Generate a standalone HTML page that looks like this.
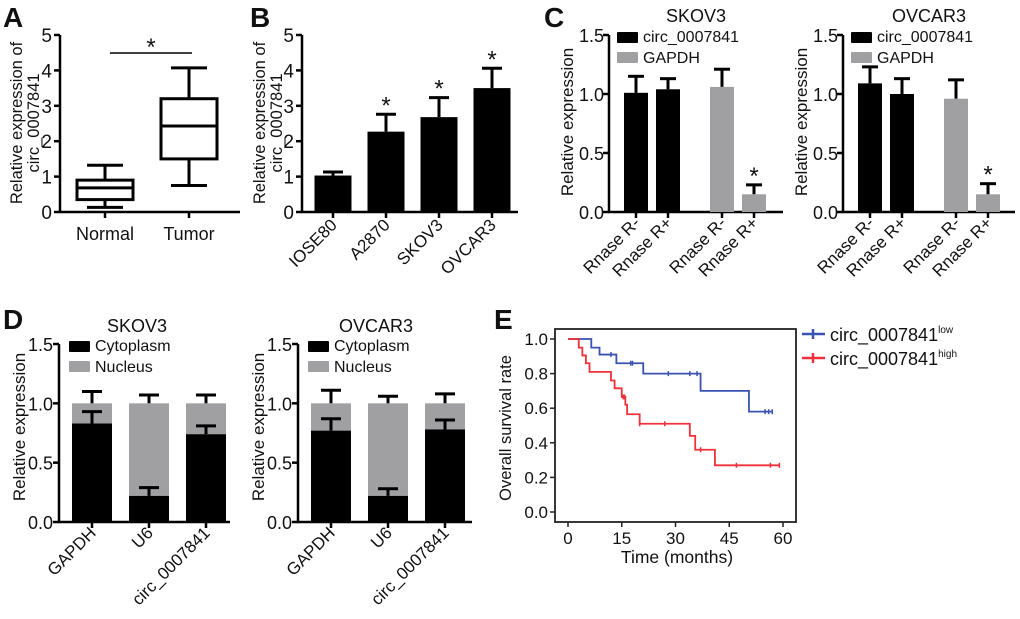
<!DOCTYPE html>
<html><head><meta charset="utf-8"><style>
body{margin:0;background:#fff}
svg text{font-family:"Liberation Sans",Arial,sans-serif;fill:#111}
</style></head><body>
<svg id="fig" width="1020" height="614" viewBox="0 0 1020 614" xmlns="http://www.w3.org/2000/svg"></svg>
<script>
// Panel A boxplot data
const boxCats = ["Normal", "Tumor"];
const boxMin = [0.13, 0.75];
const boxQ1 = [0.35, 1.5];
const boxMed = [0.68, 2.43];
const boxQ3 = [0.9, 3.2];
const boxMax = [1.32, 4.07];
// Panel B
const bCats = ["IOSE80", "A2870", "SKOV3", "OVCAR3"];
const bVals = [1.03, 2.27, 2.68, 3.5];
const bErr = [1.13, 2.76, 3.23, 4.06];
const bSig = [false, true, true, true];
// Panel C
const cCats = ["Rnase R-", "Rnase R+", "Rnase R-", "Rnase R+"];
const cSkovVals = [1.01, 1.04, 1.06, 0.15];
const cSkovErr = [1.15, 1.13, 1.21, 0.23];
const cOvcarVals = [1.09, 1.0, 0.96, 0.15];
const cOvcarErr = [1.23, 1.13, 1.12, 0.24];
const cGroup = ["circ", "circ", "gapdh", "gapdh"];
// Panel D
const dCats = ["GAPDH", "U6", "circ_0007841"];
const dSkovCyto = [0.83, 0.22, 0.74];
const dSkovCytoErr = [0.93, 0.29, 0.81];
const dSkovNucErr = [1.10, 1.07, 1.07];
const dOvcarCyto = [0.77, 0.22, 0.78];
const dOvcarCytoErr = [0.87, 0.28, 0.86];
const dOvcarNucErr = [1.11, 1.06, 1.08];
// Panel E survival
const lowT = [0, 6.5, 8.8, 13.5, 21, 37, 50.5, 57];
const lowS = [1.0, 0.95, 0.91, 0.86, 0.80, 0.70, 0.58, 0.58];
const lowCens = [12, 17.5, 18, 28, 34, 36, 55, 56, 57];
const highT = [0, 3, 4, 5, 6, 12, 13, 15, 16, 16.5, 20, 34, 35.5, 41, 59];
const highS = [1.0, 0.95, 0.905, 0.86, 0.81, 0.76, 0.715, 0.665, 0.62, 0.565, 0.51, 0.44, 0.36, 0.27, 0.27];
const highCens = [15.4, 15.8, 20, 27, 37, 47, 56.5, 59];
const xTicksE = [0, 15, 30, 45, 60];
const yTicksE = [0, 0.2, 0.4, 0.6, 0.8, 1.0];

const svg = document.getElementById('fig');
const NS = "http://www.w3.org/2000/svg";
const GRAY = "#a0a0a3";
function el(tag, attrs, parent) {
  const e = document.createElementNS(NS, tag);
  for (const k in attrs) e.setAttribute(k, attrs[k]);
  (parent || svg).appendChild(e);
  return e;
}
function txt(x, y, s, size, attrs, parent) {
  const t = el('text', Object.assign({x: x, y: y, 'font-size': size}, attrs || {}), parent);
  t.textContent = s;
  return t;
}
function line(x1, y1, x2, y2, w, c, parent) {
  return el('line', {x1, y1, x2, y2, stroke: c || '#000', 'stroke-width': w || 2}, parent);
}
function yAxis(g, x0, yBase, yTop, xEnd, max, ticks, fmt, fs, off) {
  const sy = v => yBase - v / max * (yBase - yTop);
  line(x0, yTop, x0, yBase + 1, 2.5, '#000', g);
  line(x0 - 1, yBase, xEnd, yBase, 2.5, '#000', g);
  ticks.forEach(v => {
    line(x0 - 6, sy(v), x0, sy(v), 2.5, '#000', g);
    const t = txt(x0 - off, sy(v) + 7, fmt(v), fs, {'text-anchor': 'end'}, g);
    
    
  });
  return sy;
}
function errBar(g, cx, y1, y2, hw) {
  line(cx, y1, cx, y2, 3, '#000', g);
  line(cx - hw, y2, cx + hw, y2, 3, '#000', g);
}
function panelLetter(x, y, s) {
  const t = txt(x, y, s, 28, {'font-weight': 'bold'});
  
  
}
function yTitle(g, xs, y, lines, fs) {
  const t = el('text', {'font-size': fs, 'text-anchor': 'middle'}, g);
  
  
  lines.forEach((l, i) => {
    const ts = el('tspan', {transform: '', x: 0, y: 0}, t);
    ts.textContent = l;
  });
  // place each line separately via its own text element for exact baselines
  svg.removeChild ? null : null;
  t.remove();
  lines.forEach((l, i) => {
    const tt = el('text', {transform: `translate(${xs[i]},${y}) rotate(-90)`, 'font-size': fs, 'text-anchor': 'middle'}, g);
    
    
    tt.textContent = l;
  });
}
function rotLabel(g, cx, y, s) {
  const t = txt(0, 0, s, 17, {'text-anchor': 'end', transform: `translate(${cx + 5},${y}) rotate(-45)`}, g);
  
  
}

// ---------- Panel A ----------
panelLetter(3, 27, "A");
(function () {
  const g = el('g', {});
  
  
  const sy = yAxis(g, 60, 212, 35, 240, 5, [0, 1, 2, 3, 4, 5], v => String(v), 19, 8);
  yTitle(g, [22, 39], 123, ["Relative expression of", "circ_0007841"], 16.5);
  const cx = i => 105 + i * 84;
  boxCats.forEach((c, i) => {
    const x = cx(i), hw = 28;
    line(x, 212, x, 218, 2.5, '#000', g);
    const t = txt(x, 240, c, 18, {'text-anchor': 'middle'}, g);
    
    
    const b = el('rect', {x: x - hw, y: sy(boxQ3[i]), width: hw * 2, height: sy(boxQ1[i]) - sy(boxQ3[i]), fill: 'none', stroke: '#000', 'stroke-width': 3}, g);
    
    
    line(x - hw, sy(boxMed[i]), x + hw, sy(boxMed[i]), 3, '#000', g);
    line(x, sy(boxQ3[i]), x, sy(boxMax[i]), 3, '#000', g);
    line(x, sy(boxQ1[i]), x, sy(boxMin[i]), 3, '#000', g);
    line(x - 18, sy(boxMax[i]), x + 18, sy(boxMax[i]), 3, '#000', g);
    line(x - 18, sy(boxMin[i]), x + 18, sy(boxMin[i]), 3, '#000', g);
  });
  line(110, 53, 192, 53, 1.5, '#000', g);
  txt(151, 55, "*", 24, {'text-anchor': 'middle'}, g);
})();

// ---------- Panel B ----------
panelLetter(250, 27, "B");
(function () {
  const g = el('g', {});
  
  
  const sy = yAxis(g, 302, 212, 35, 518, 5, [0, 1, 2, 3, 4, 5], v => String(v), 19, 8);
  yTitle(g, [265, 282], 123, ["Relative expression of", "circ_0007841"], 16.5);
  const cx = i => 333 + i * 53;
  bCats.forEach((c, i) => {
    const x = cx(i), hw = 18.5;
    errBar(g, x, sy(bVals[i]), sy(bErr[i]), 10);
    const r = el('rect', {x: x - hw, y: sy(bVals[i]), width: hw * 2, height: 212 - sy(bVals[i]), fill: '#000'}, g);
    
    
    line(x, 212, x, 218, 2.5, '#000', g);
    rotLabel(g, x, 226, c);
    if (bSig[i]) txt(x, sy(bErr[i]) - 1, "*", 24, {'text-anchor': 'middle'}, g);
  });
})();

// ---------- Panel C ----------
panelLetter(544, 27, "C");
function panelC(x0, xEnd, title, vals, errs, name) {
  const g = el('g', {});
  
  
  const sy = yAxis(g, x0, 212, 35, xEnd, 1.5, [0, 0.5, 1.0, 1.5], v => v.toFixed(1), 18, 5);
  yTitle(g, [x0 - 36], 122, ["Relative expression"], 17);
  const tt = txt((x0 + xEnd) / 2, 22, title, 18, {'text-anchor': 'middle'}, g);
  
  
  const cxs = [x0 + 27, x0 + 59, x0 + 113, x0 + 145];
  cCats.forEach((c, i) => {
    const x = cxs[i], hw = 12;
    errBar(g, x, sy(vals[i]), sy(errs[i]), 8);
    const r = el('rect', {x: x - hw, y: sy(vals[i]), width: hw * 2, height: 212 - sy(vals[i]), fill: cGroup[i] === 'circ' ? '#000' : GRAY}, g);
    
    
    line(x, 212, x, 218, 2.5, '#000', g);
    rotLabel(g, x, 224, c);
  });
  txt(cxs[3], sy(errs[3]) - 1, "*", 24, {'text-anchor': 'middle'}, g);
  const lg = el('g', {}, g);
  
  
  el('rect', {x: x0 + 8, y: 32, width: 21, height: 11, fill: '#000', rx: 1}, lg);
  txt(x0 + 34, 42, "circ_0007841", 16, {}, lg);
  el('rect', {x: x0 + 8, y: 52, width: 21, height: 11, fill: GRAY, rx: 1}, lg);
  txt(x0 + 34, 63, "GAPDH", 16, {}, lg);
}
panelC(609, 783, "SKOV3", cSkovVals, cSkovErr, 'panel-c-skov3');
panelC(843, 1015, "OVCAR3", cOvcarVals, cOvcarErr, 'panel-c-ovcar3');

// ---------- Panel D ----------
panelLetter(3, 329, "D");
function panelD(x0, xEnd, title, cyto, cytoErr, nucErr, name) {
  const g = el('g', {});
  
  
  const sy = yAxis(g, x0, 522, 344, xEnd, 1.5, [0, 0.5, 1.0, 1.5], v => v.toFixed(1), 18, 6);
  yTitle(g, [x0 - 34], 427, ["Relative expression"], 17);
  const tt = txt(x0 + 78, 332, title, 18, {'text-anchor': 'middle'}, g);
  
  
  const cx = i => x0 + 33 + i * 57;
  dCats.forEach((c, i) => {
    const x = cx(i), hw = 20;
    errBar(g, x, sy(1), sy(nucErr[i]), 10);
    const n = el('rect', {x: x - hw, y: sy(1), width: hw * 2, height: sy(cyto[i]) - sy(1), fill: GRAY}, g);
    
    
    errBar(g, x, sy(cyto[i]), sy(cytoErr[i]), 10);
    const r = el('rect', {x: x - hw, y: sy(cyto[i]), width: hw * 2, height: 522 - sy(cyto[i]), fill: '#000'}, g);
    
    
    line(x, 522, x, 528, 2.5, '#000', g);
    rotLabel(g, x, 534, c);
  });
  const lg = el('g', {}, g);
  
  
  el('rect', {x: x0 + 10, y: 341, width: 21, height: 11, fill: '#000', rx: 1}, lg);
  txt(x0 + 36, 351, "Cytoplasm", 16, {}, lg);
  el('rect', {x: x0 + 10, y: 361, width: 21, height: 11, fill: GRAY, rx: 1}, lg);
  txt(x0 + 36, 372, "Nucleus", 16, {}, lg);
}
panelD(59, 230, "SKOV3", dSkovCyto, dSkovCytoErr, dSkovNucErr, 'panel-d-skov3');
panelD(298, 472, "OVCAR3", dOvcarCyto, dOvcarCytoErr, dOvcarNucErr, 'panel-d-ovcar3');

// ---------- Panel E ----------
panelLetter(494, 329, "E");
(function () {
  const g = el('g', {});
  
  
  const sx = t => 568 + t / 60 * (783 - 568);
  const sy = v => 512 - v * (512 - 339);
  const fr = el('rect', {x: 555, y: 329, width: 241, height: 193, fill: 'none', stroke: '#222', 'stroke-width': 1.8}, g);
  
  
  yTicksE.forEach(v => {
    line(550, sy(v), 555, sy(v), 1.5, '#222', g);
    const t = txt(548, sy(v) + 6, v.toFixed(1), 17, {'text-anchor': 'end'}, g);
    
    
  });
  xTicksE.forEach(v => {
    line(sx(v), 522, sx(v), 527, 1.5, '#222', g);
    const t = txt(sx(v), 544, String(v), 17, {'text-anchor': 'middle'}, g);
    
    
  });
  const xt = txt(677, 563, "Time (months)", 17.5, {'text-anchor': 'middle'}, g);
  
  
  yTitle(g, [511], 428, ["Overall survival rate"], 16.5);
  function stepVal(T, S, t) { let v = S[0]; for (let i = 0; i < T.length; i++) if (T[i] <= t) v = S[i]; return v; }
  function curve(T, S, cens, color, nm) {
    let d = `M${sx(T[0])},${sy(S[0])}`;
    for (let i = 1; i < T.length; i++) d += ` H${sx(T[i])} V${sy(S[i])}`;
    const p = el('path', {d, fill: 'none', stroke: color, 'stroke-width': 1.8}, g);
    
    
    cens.forEach(t => {
      const m = line(sx(t), sy(stepVal(T, S, t)) - 2.5, sx(t), sy(stepVal(T, S, t)) + 2.5, 1.5, color, g);
      
      
    });
  }
  curve(lowT, lowS, lowCens, '#3a52b0', 'survival-curve-low');
  curve(highT, highS, highCens, '#f0303a', 'survival-curve-high');
  const lg = el('g', {}, g);
  
  
  line(802, 334, 825, 334, 2.5, '#3a52b0', lg); line(813, 329, 813, 339, 2.5, '#3a52b0', lg);
  const t1 = txt(830, 341, "circ_0007841", 18, {}, lg);
  const s1 = el('tspan', {'font-size': 10, dy: -8}, t1); s1.textContent = "low";
  line(802, 358, 825, 358, 2.5, '#f0303a', lg); line(813, 353, 813, 363, 2.5, '#f0303a', lg);
  const t2 = txt(830, 365, "circ_0007841", 18, {}, lg);
  const s2 = el('tspan', {'font-size': 10, dy: -8}, t2); s2.textContent = "high";
})();
</script>
</body></html>
